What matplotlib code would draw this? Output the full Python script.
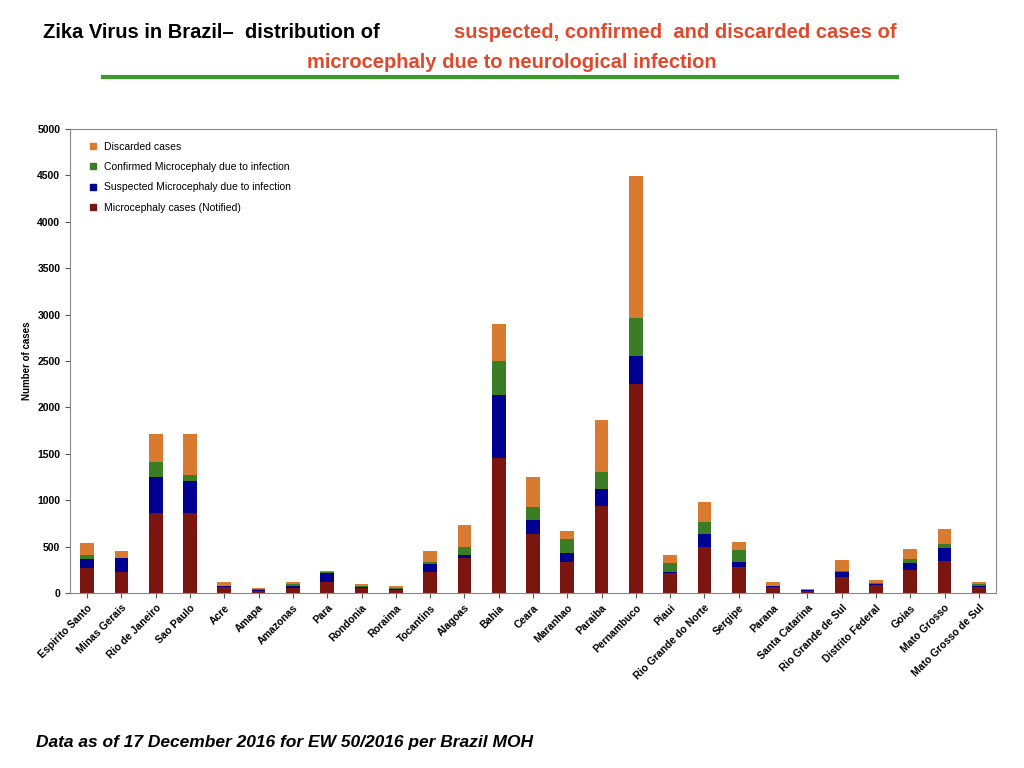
import numpy as np
import matplotlib.pyplot as plt
from matplotlib.lines import Line2D

plt.rcParams["font.family"] = ["Liberation Sans", "DejaVu Sans"]

states = ["Espirito Santo", "Minas Gerais", "Rio de Janeiro", "Sao Paulo", "Acre", "Amapa",
          "Amazonas", "Para", "Rondonia", "Roraima", "Tocantins", "Alagoas", "Bahia", "Ceara",
          "Maranhao", "Paraiba", "Pernambuco", "Piaui", "Rio Grande do Norte", "Sergipe",
          "Parana", "Santa Catarina", "Rio Grande de Sul", "Distrito Federal", "Goias",
          "Mato Grosso", "Mato Grosso de Sul"]
notified = [268, 226, 859, 859, 61, 21, 57, 118, 50, 36, 226, 374, 1451, 632, 338, 938, 2252,
            212, 492, 277, 61, 25, 176, 86, 248, 345, 61]
suspected = [95, 148, 395, 351, 14, 13, 22, 101, 15, 4, 90, 39, 683, 150, 90, 179, 302,
             11, 140, 61, 11, 3, 54, 11, 72, 136, 14]
confirmed = [50, 2, 161, 62, 2, 6, 18, 9, 10, 14, 22, 86, 366, 145, 154, 183, 409,
             97, 137, 129, 3, 3, 10, 8, 43, 50, 25]
discarded = [125, 81, 295, 445, 45, 14, 21, 12, 22, 21, 118, 234, 399, 327, 89, 564, 1531,
             89, 212, 79, 47, 12, 119, 35, 111, 162, 22]

series = [("Microcephaly cases (Notified)", notified, "#7a1510"),
          ("Suspected Microcephaly due to infection", suspected, "#000090"),
          ("Confirmed Microcephaly due to infection", confirmed, "#3a7d24"),
          ("Discarded cases", discarded, "#d87a30")]

fig = plt.figure(figsize=(10.24, 7.68), dpi=100)
ax = fig.add_axes([70/1024, 1 - 593/768, 926/1024, 464/768])

x = np.arange(len(states))
bottom = np.zeros(len(states))
handles = []
for label, vals, color in series:
    ax.bar(x, vals, 0.4, bottom=bottom, color=color)
    bottom += np.array(vals)
    handles.append(Line2D([], [], marker="s", color=color, linestyle="none", markersize=5, label=label))

ax.set_xlim(-0.5, len(states) - 0.5)
ax.set_ylim(0, 5000)
ax.set_yticks(range(0, 5001, 500))
ax.set_xticks(x)
ax.set_xticklabels(states, rotation=45, ha="right", rotation_mode="anchor", fontsize=7.5, fontweight="bold")
ax.tick_params(axis="y", labelsize=7.5)
for t in ax.get_yticklabels():
    t.set_fontweight("bold")
ax.set_ylabel("Number of cases", fontsize=7, fontweight="bold")
for s in ax.spines.values():
    s.set_color("#888888")
ax.tick_params(colors="#555555", labelcolor="black")

ax.legend(handles=handles[::-1], loc="upper left", frameon=False, fontsize=7.5,
          handletextpad=0.1, labelspacing=1.0, borderaxespad=0.8)

fig.text(0.042, 0.958, "Zika Virus in Brazil\u2013  distribution of", fontsize=14.5, fontweight="bold", va="center")
fig.text(0.443, 0.958, "suspected, confirmed  and discarded cases of", fontsize=14.5, fontweight="bold",
         color="#e04a2c", va="center")
fig.text(0.5, 0.918, "microcephaly due to neurological infection", fontsize=14.5, fontweight="bold",
         color="#e04a2c", va="center", ha="center")
fig.add_artist(Line2D([103/1024, 897/1024], [1 - 77/768, 1 - 77/768], color="#3a9a2a", linewidth=3))
fig.text(0.035, 0.024, "Data as of 17 December 2016 for EW 50/2016 per Brazil MOH", fontsize=12.5,
         fontweight="bold", style="italic", va="bottom")

fig.savefig("out.png", dpi=100)
